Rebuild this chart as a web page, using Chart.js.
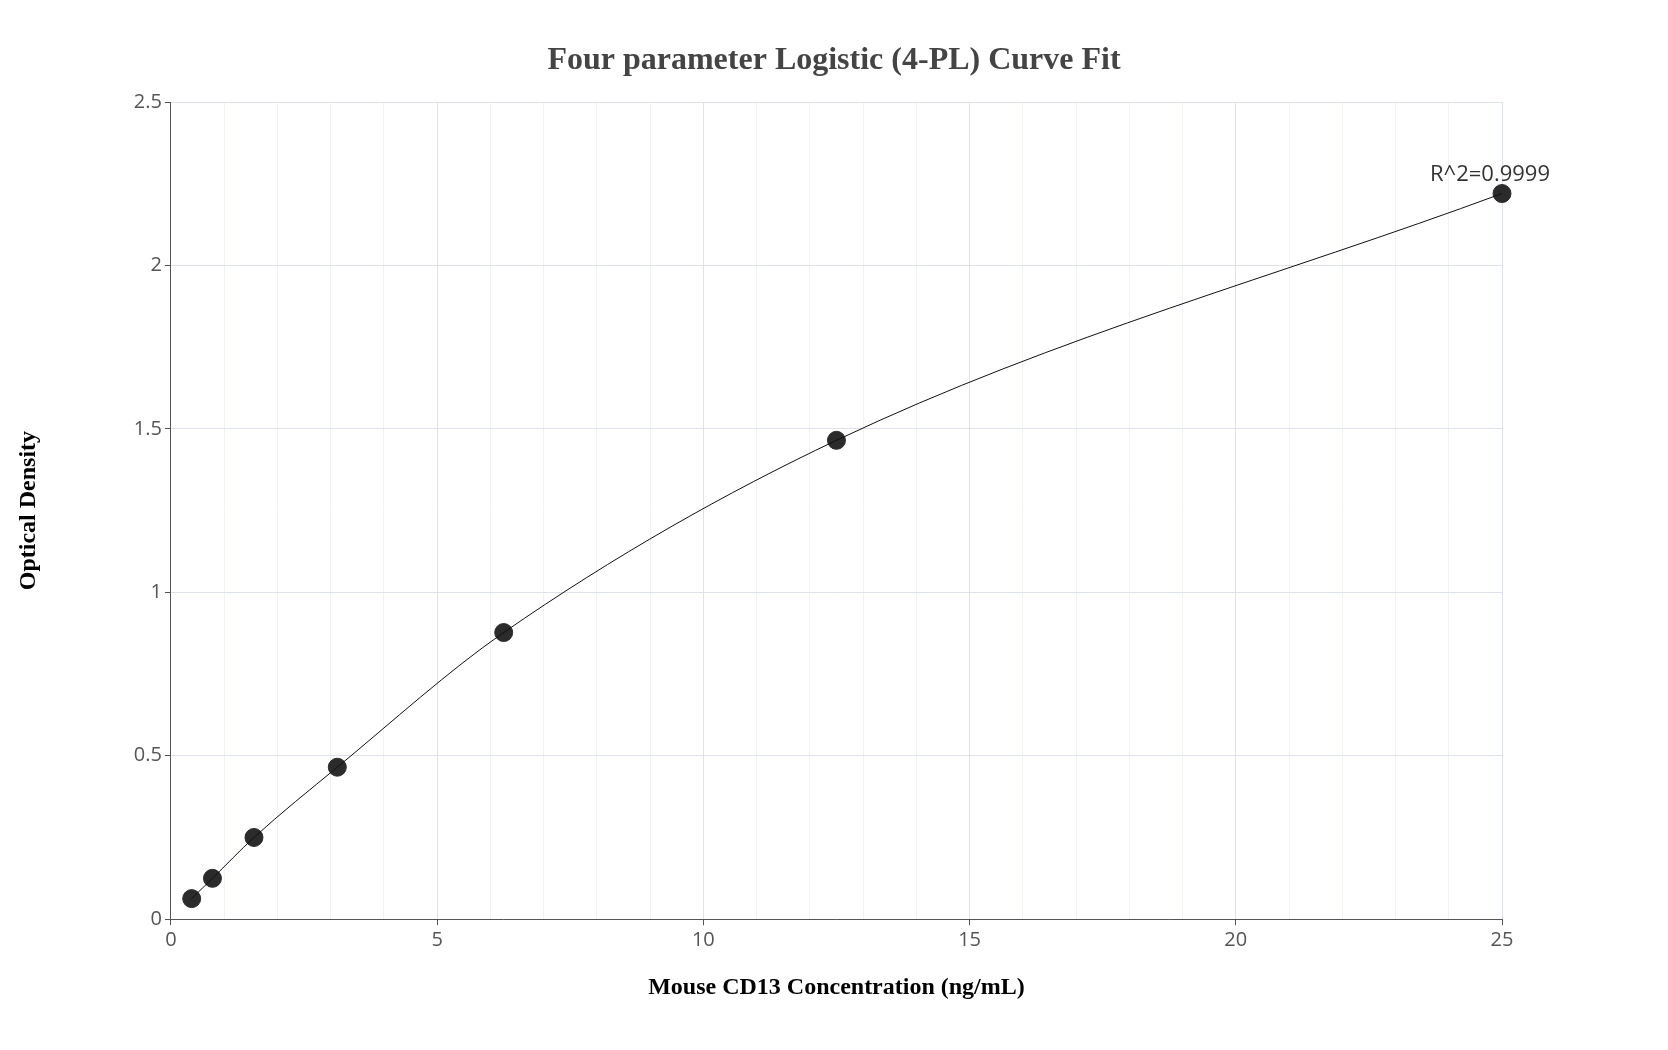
<!DOCTYPE html>
<html><head><meta charset="utf-8">
<script src="https://cdn.jsdelivr.net/npm/chart.js@4"></script>
<style>html,body{margin:0;background:#fff}#w{width:1668px;height:1050px}</style>
</head><body><div id="w"><canvas id="c"></canvas></div>
<script>
const concentrations = [0.39, 0.78, 1.56, 3.125, 6.25, 12.5, 25];
const opticalDensity = [0.063, 0.125, 0.25, 0.465, 0.877, 1.465, 2.22];
const xTickLabels = [0, 5, 10, 15, 20, 25];
const yTickLabels = [0, 0.5, 1, 1.5, 2, 2.5];
const rSquaredLabel = "R^2=0.9999";
const chartTitle = 'Four parameter Logistic (4-PL) Curve Fit';

const pts = concentrations.map((x, i) => ({x, y: opticalDensity[i]}));
const labelPlugin = {
  id: 'r2',
  afterDatasetsDraw(chart) {
    const {ctx, scales: {x, y}} = chart;
    const last = pts[pts.length - 1];
    ctx.save();
    ctx.font = '22px "Open Sans"';
    ctx.fillStyle = '#333';
    ctx.textAlign = 'center';
    ctx.textBaseline = 'bottom';
    ctx.fillText(rSquaredLabel, x.getPixelForValue(last.x) - 12, y.getPixelForValue(last.y) - 8);
    ctx.font = 'bold 32px "Liberation Serif"';
    ctx.fillStyle = '#444';
    ctx.textBaseline = 'middle';
    ctx.fillText(chartTitle, chart.width / 2, 61);
    ctx.restore();
  }
};
new Chart(document.getElementById('c'), {
  type: 'scatter',
  data: { datasets: [
    { data: pts, showLine: true, borderColor: '#111', borderWidth: 1, cubicInterpolationMode: 'monotone',
      pointRadius: 0, pointHoverRadius: 0 },
    { data: pts, showLine: false, backgroundColor: '#2b2b2b', borderColor: '#2b2b2b', pointRadius: 9, clip: false }
  ]},
  options: {
    responsive: true, maintainAspectRatio: false, animation: false,
    layout: { padding: { left: 10, right: 166, top: 102, bottom: 44 } },
    plugins: { legend: { display: false }, tooltip: { enabled: false } },
    scales: {
      x: { type: 'linear', min: 0, max: 25,
        ticks: { stepSize: 1, autoSkip: false, color: '#555', font: { family: 'Open Sans', size: 20 },
          callback: v => xTickLabels.includes(v) ? v : '' },
        grid: { color: c => c.tick.value % 5 === 0 ? '#dde2ec' : '#f0f2f7',
          tickColor: c => c.tick.value % 5 === 0 ? '#555' : 'rgba(0,0,0,0)', tickLength: 6 },
        border: { color: '#555' },
        title: { display: true, text: 'Mouse CD13 Concentration (ng/mL)', color: '#000',
          font: { family: 'Liberation Serif', size: 24, weight: 'bold' }, padding: { top: 18 } } },
      y: { min: 0, max: 2.5,
        ticks: { stepSize: 0.5, color: '#555', font: { family: 'Open Sans', size: 20 },
          callback: v => yTickLabels.includes(v) ? v : '' },
        grid: { color: '#dde2ec', tickColor: '#555', tickLength: 6 },
        border: { color: '#555' },
        title: { display: true, text: 'Optical Density', color: '#000',
          font: { family: 'Liberation Serif', size: 24, weight: 'bold' }, padding: { bottom: 88 } } }
    }
  },
  plugins: [labelPlugin]
});
</script></body></html>
